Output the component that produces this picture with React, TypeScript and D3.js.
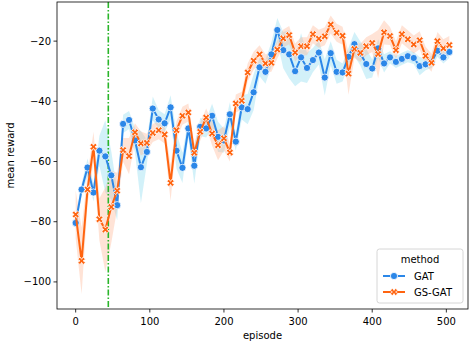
import React from 'react';
import * as d3 from 'd3';

// episodes sampled every 8 steps
const episodes = d3.range(0, 505, 8);
const splitEpisode = 44;

const gatReward = [
  -80.4, -69.3, -62.0, -70.3, -56.4, -58.3, -64.6, -74.5, -47.5, -46.2,
  -53.0, -61.9, -56.8, -42.4, -46.0, -47.3, -42.0, -56.4, -62.1, -49.0,
  -61.4, -48.5, -49.0, -44.8, -51.8, -53.0, -44.3, -53.4, -42.0, -42.6,
  -37.0, -28.7, -30.2, -24.4, -16.3, -23.0, -24.4, -30.0, -25.4, -28.9,
  -26.3, -23.8, -32.1, -24.0, -30.2, -30.4, -25.2, -21.0, -24.1, -27.6,
  -29.1, -22.4, -27.4, -25.4, -26.9, -25.9, -25.0, -25.6, -28.3, -27.7,
  -26.9, -23.2, -25.4, -23.6,
];
const gsgatReward = [
  -77.6, -93.0, -69.3, -55.1, -79.2, -82.6, -75.1, -69.7, -56.2, -58.2,
  -50.3, -54.0, -53.8, -50.5, -49.6, -51.0, -67.1, -49.6, -44.8, -43.7,
  -57.1, -50.1, -45.4, -50.7, -54.6, -52.3, -57.0, -40.7, -39.8, -30.4,
  -26.5, -24.4, -27.4, -27.2, -22.8, -19.1, -18.0, -23.8, -21.7, -21.7,
  -17.7, -19.2, -18.4, -14.5, -17.2, -18.2, -30.8, -22.6, -23.9, -21.7,
  -20.6, -24.3, -17.1, -18.3, -23.0, -17.7, -19.4, -21.1, -19.7, -24.9,
  -27.2, -20.0, -22.4, -21.3,
];
// approximate half-width of the confidence band
const gatCi = [
  2, 2, 3, 3, 5, 12, 8, 5, 3, 3,
  4, 12, 4, 4, 3, 3, 4, 6, 5, 3,
  6, 3, 3, 4, 5, 4, 4, 3, 4, 5,
  6, 3, 4, 4, 4, 6, 8, 5, 8, 5,
  4, 4, 6, 4, 4, 3, 3, 4, 4, 5,
  3, 3, 3, 2, 2, 2, 2, 2, 3, 2,
  2, 2, 2, 2,
];
const gsgatCi = [
  8, 11, 5, 5, 7, 14, 12, 6, 4, 6,
  3, 4, 3, 3, 3, 3, 6, 3, 3, 3,
  3, 3, 3, 4, 5, 4, 3, 3, 3, 3,
  3, 3, 3, 3, 3, 3, 3, 3, 3, 3,
  3, 3, 3, 3, 3, 3, 7, 3, 3, 3,
  3, 8, 4, 3, 3, 3, 3, 3, 3, 3,
  3, 3, 3, 3,
];
const xTicks = [0, 100, 200, 300, 400, 500];
const yTicks = [-100, -80, -60, -40, -20];

const BLUE = '#2b87e8';
const ORANGE = '#ff6410';

// filled "X" marker like matplotlib
const xMarker = (s: number) => {
  const t = s * 0.4;
  const pts: [number, number][] = [
    [-t, -s], [0, -t], [t, -s], [s, -t], [t, 0], [s, t],
    [t, s], [0, t], [-t, s], [-s, t], [-t, 0], [-s, -t],
  ];
  return 'M' + pts.map(([a, b]) => [a * 0.8, b * 0.8].join(',')).join('L') + 'Z';
};

const App = () => {
  const width = 473;
  const height = 347;
  const left = 57, right = 468, top = 2, bottom = 309;

  const x = d3.scaleLinear().domain([-25.2, 529.2]).range([left, right]);
  const y = d3.scaleLinear().domain([-109, -7]).range([bottom, top]);

  const line = d3.line<number>().x((_, i) => x(episodes[i])).y(d => y(d));
  const band = (vals: number[], ci: number[]) =>
    d3.area<number>()
      .x((_, i) => x(episodes[i]))
      .y0((d, i) => y(d - ci[i]))
      .y1((d, i) => y(d + ci[i]))(vals) || '';

  const fmt = (v: number) => (v < 0 ? '\u2212' + Math.abs(v) : String(v));
  const font = 'DejaVu Sans, sans-serif';
  const xm = xMarker(4.8);

  return (
    <svg width={width} height={height} style={{ position: 'absolute', left: 0, top: 0 }} fontFamily={font}>
      <rect width={width} height={height} fill="#fff" />
      <defs>
        <clipPath id="plot">
          <rect x={left} y={top} width={right - left} height={bottom - top} />
        </clipPath>
      </defs>
      <g clipPath="url(#plot)">
        <path d={band(gatReward, gatCi)} fill="#7fd6ee" fillOpacity={0.35} />
        <path d={band(gsgatReward, gsgatCi)} fill="#ffb08a" fillOpacity={0.35} />
        <line x1={x(splitEpisode)} x2={x(splitEpisode)} y1={top} y2={bottom}
          stroke="#2ab52a" strokeWidth={1.6} strokeDasharray="6,2,1.5,2" />
        <path d={line(gatReward) || ''} fill="none" stroke={BLUE} strokeWidth={2} />
        {gatReward.map((d, i) => (
          <circle key={'g' + i} cx={x(episodes[i])} cy={y(d)} r={3.6} fill={BLUE} stroke="#fff" strokeWidth={0.8} />
        ))}
        <path d={line(gsgatReward) || ''} fill="none" stroke={ORANGE} strokeWidth={2} />
        {gsgatReward.map((d, i) => (
          <path key={'s' + i} d={xm} transform={`translate(${x(episodes[i])},${y(d)})`}
            fill={ORANGE} stroke="#fff" strokeWidth={0.8} />
        ))}
      </g>
      <rect x={left} y={top} width={right - left} height={bottom - top} fill="none" stroke="#000" strokeWidth={0.8} />
      {xTicks.map(t => (
        <g key={'x' + t} transform={`translate(${x(t)},${bottom})`}>
          <line y2={3.5} stroke="#000" strokeWidth={0.8} />
          <text y={16} textAnchor="middle" fontSize={10}>{fmt(t)}</text>
        </g>
      ))}
      {yTicks.map(t => (
        <g key={'y' + t} transform={`translate(${left},${y(t)})`}>
          <line x2={-3.5} stroke="#000" strokeWidth={0.8} />
          <text x={-6} dy="0.35em" textAnchor="end" fontSize={10}>{fmt(t)}</text>
        </g>
      ))}
      <text x={(left + right) / 2} y={339} textAnchor="middle" fontSize={10}>episode</text>
      <text transform={`translate(14,${(top + bottom) / 2}) rotate(-90)`} textAnchor="middle" fontSize={10}>mean reward</text>

      <g transform="translate(377,249)">
        <rect width={86} height={54} rx={2.5} fill="#fff" fillOpacity={0.8} stroke="#ccc" strokeWidth={0.8} />
        <text x={43} y={14} textAnchor="middle" fontSize={10}>method</text>
        <line x1={6} x2={28} y1={27} y2={27} stroke={BLUE} strokeWidth={2} />
        <circle cx={17} cy={27} r={3.6} fill={BLUE} stroke="#fff" strokeWidth={0.8} />
        <text x={37} y={30.5} fontSize={10}>GAT</text>
        <line x1={6} x2={28} y1={43} y2={43} stroke={ORANGE} strokeWidth={2} />
        <path d={xm} transform="translate(17,43)" fill={ORANGE} stroke="#fff" strokeWidth={0.8} />
        <text x={37} y={46.5} fontSize={10}>GS-GAT</text>
      </g>
    </svg>
  );
};

export default App;
